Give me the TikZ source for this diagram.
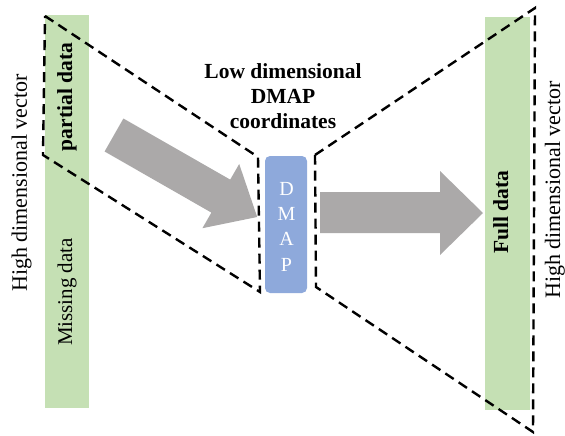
\documentclass[tikz,border=0pt]{standalone}
\usepackage{fontspec}
\setmainfont{Liberation Serif}
\definecolor{bargreen}{RGB}{197,224,180}
\definecolor{dmapblue}{RGB}{142,169,219}
\definecolor{arrowgray}{RGB}{171,169,169}
\tikzset{
  dashline/.style={draw=black, line width=2.4pt, dash pattern=on 10pt off 6pt, line join=miter},
  boldlbl/.style={inner sep=0pt, font=\fontsize{21.5}{25}\selectfont\bfseries, anchor=base},
  reglbl/.style={inner sep=0pt, font=\fontsize{21}{25}\selectfont, anchor=base},
  sidelbl/.style={inner sep=0pt, font=\fontsize{22}{26}\selectfont, anchor=base, rotate=90},
  letter/.style={inner sep=0pt, font=\fontsize{20}{24}\selectfont, text=white, anchor=base}
}
\begin{document}
\begin{tikzpicture}[x=1pt,y=-1pt]
\useasboundingbox (0,0) rectangle (565,436);
% green bars
\fill[bargreen] (45,15) rectangle (89,408);
\fill[bargreen] (485,17) rectangle (530,410);
% DMAP box
\fill[dmapblue, rounded corners=5pt] (265,156) rectangle (307,293);
% gray block arrows
\fill[arrowgray] (123.4,118.5) -- (230.2,179.6) -- (239.2,164.0) -- (257.2,217.0)
  -- (202.4,228.2) -- (211.4,212.6) -- (104.6,151.5) -- cycle;
\fill[arrowgray] (320,192) -- (440,192) -- (440,171) -- (483,213)
  -- (440,255) -- (440,233) -- (320,233) -- cycle;
% dashed outlines
\coordinate (l1) at (45,16);
\coordinate (l2) at (258,157);
\coordinate (l3) at (260,292);
\coordinate (l4) at (43,155);
\coordinate (r1) at (315,155);
\coordinate (r2) at (535,8);
\coordinate (r3) at (533,432);
\coordinate (r4) at (316,287);
\draw[dashline] (l1) -- (l2) -- (l3) -- (l4) -- cycle;
\draw[dashline] (r1) -- (r2) -- (r3) -- (r4) -- cycle;
% DMAP letters
\node[letter] (dD) at (286.5,195) {D};
\node[letter] (dM) at (286.5,220) {M};
\node[letter] (dA) at (286.5,245) {A};
\node[letter] (dP) at (286.5,271) {P};
% title
\node[boldlbl] (t1) at (283,78) {Low dimensional};
\node[boldlbl] (t2) at (283,103) {DMAP};
\node[boldlbl] (t3) at (283,128) {coordinates};
% rotated labels
\node[boldlbl, rotate=90] (partial) at (72,97) {partial data};
\node[reglbl, rotate=90] (missing) at (72,292) {Missing data};
\node[boldlbl, rotate=90] (full) at (508,212) {Full data};
\node[sidelbl] (hdl) at (27,183) {High dimensional vector};
\node[sidelbl] (hdr) at (560,190) {High dimensional vector};
\end{tikzpicture}
\end{document}
